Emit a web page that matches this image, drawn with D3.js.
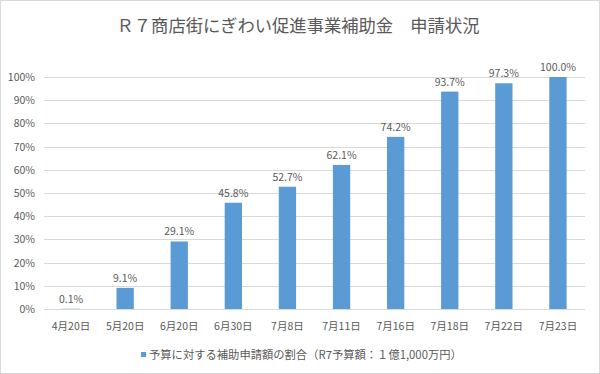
<!DOCTYPE html>
<html>
<head>
<meta charset="utf-8">
<script src="https://d3js.org/d3.v7.min.js"></script>
<style>
    body { margin: 0; background: #fff; }
    svg text { font-family: "Noto Sans CJK JP", "Noto Sans", sans-serif; fill: #595959; }
</style>
</head>
<body>
<svg width="600" height="374"></svg>
<script>
    const dates = ['4月20日', '5月20日', '6月20日', '6月30日', '7月8日', '7月11日', '7月16日', '7月18日', '7月22日', '7月23日'];
    const ratio = [0.1, 9.1, 29.1, 45.8, 52.7, 62.1, 74.2, 93.7, 97.3, 100.0];
    const yTicks = [0, 10, 20, 30, 40, 50, 60, 70, 80, 90, 100];

    const svg = d3.select('svg');
    const color = '#5B9BD5';

    // outer frame
    svg.append('rect')
        .attr('x', 0.5).attr('y', 0.5)
        .attr('width', 599).attr('height', 373)
        .attr('fill', '#fff')
        .attr('stroke', '#D9D9D9');

    svg.append('text')
        .attr('x', 298).attr('y', 32)
        .attr('text-anchor', 'middle')
        .style('font-size', '17.3px')
        .text('Ｒ７商店街にぎわい促進事業補助金　申請状況');

    const x = d3.scaleBand()
        .domain(dates)
        .range([44, 585])
        .paddingInner(0.68)
        .paddingOuter(0.34);

    const y = d3.scaleLinear()
        .domain([0, 100])
        .range([309, 77]);

    // gridlines
    svg.append('g')
        .selectAll('line')
        .data(yTicks)
        .enter()
        .append('line')
        .attr('x1', 44).attr('x2', 585)
        .attr('y1', d => Math.round(y(d)) + 0.5)
        .attr('y2', d => Math.round(y(d)) + 0.5)
        .attr('stroke', '#D9D9D9');

    svg.append('g')
        .selectAll('text')
        .data(yTicks)
        .enter()
        .append('text')
        .attr('x', 35)
        .attr('y', d => y(d) + 4)
        .attr('text-anchor', 'end')
        .style('font-size', '10.5px')
        .text(d => d + '%');

    svg.append('g')
        .selectAll('rect')
        .data(ratio)
        .enter()
        .append('rect')
        .attr('x', (d, i) => x(dates[i]))
        .attr('y', d => y(d))
        .attr('width', x.bandwidth())
        .attr('height', d => y(0) - y(d))
        .attr('fill', color);

    svg.append('g')
        .selectAll('text')
        .data(ratio)
        .enter()
        .append('text')
        .attr('x', (d, i) => x(dates[i]) + x.bandwidth() / 2)
        .attr('y', d => y(d) - 6)
        .attr('text-anchor', 'middle')
        .style('font-size', '10.5px')
        .text(d => d.toFixed(1) + '%');

    svg.append('g')
        .selectAll('text')
        .data(dates)
        .enter()
        .append('text')
        .attr('x', d => x(d) + x.bandwidth() / 2)
        .attr('y', 330)
        .attr('text-anchor', 'middle')
        .style('font-size', '10.5px')
        .text(d => d);

    // legend
    const legend = svg.append('g');
    legend.append('rect')
        .attr('x', 141).attr('y', 352)
        .attr('width', 5).attr('height', 5)
        .attr('fill', color);
    legend.append('text')
        .attr('x', 149).attr('y', 359)
        .style('font-size', '11.3px')
        .text('予算に対する補助申請額の割合（R7予算額：１億1,000万円）');
</script>
</body>
</html>
